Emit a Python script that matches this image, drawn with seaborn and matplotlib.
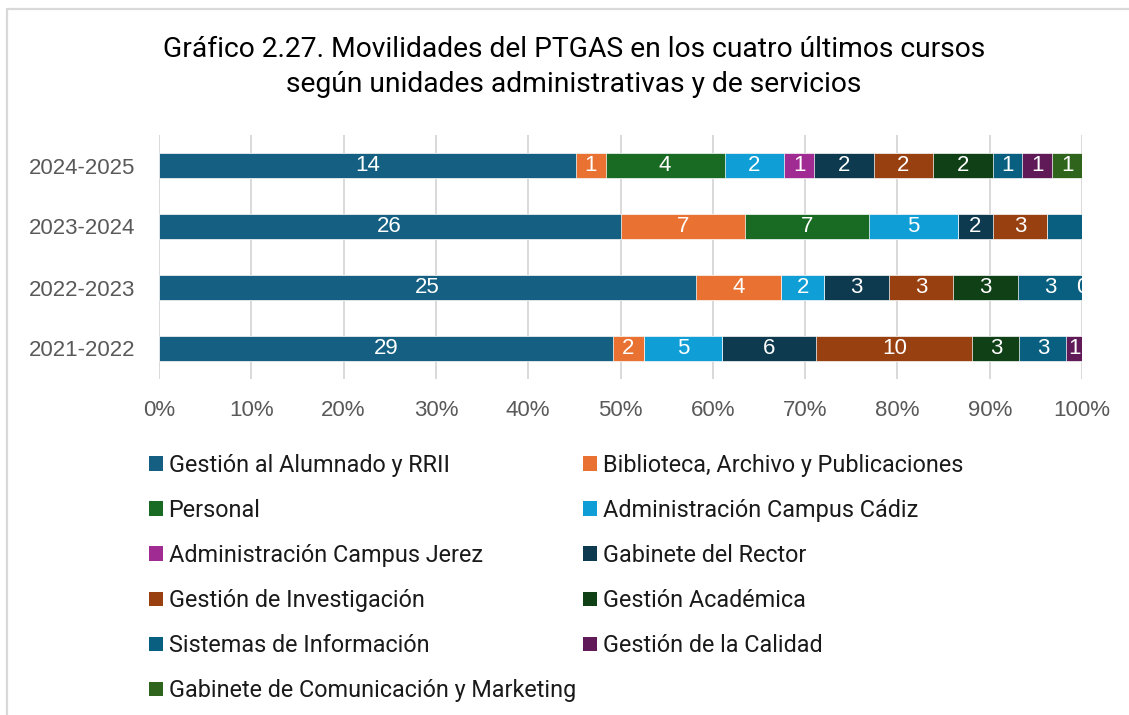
"""
Gráfico 2.27: movilidades del PTGAS por unidad administrativa (barras 100% apiladas).
"""

import matplotlib

matplotlib.use("Agg")

import matplotlib.pyplot as plt
import numpy as np
import pandas as pd
import seaborn as sns
from matplotlib.lines import Line2D
from matplotlib.patches import Patch

# Cursos, de arriba a abajo
CURSOS = ["2024-2025", "2023-2024", "2022-2023", "2021-2022"]

# Movilidades por unidad (NaN = celda vacía, sin etiqueta)
ALUMNADO = [14, 26, 25, 29]
BIBLIOTECA = [1, 7, 4, 2]
PERSONAL = [4, 7, np.nan, np.nan]
CAMPUS_CADIZ = [2, 5, 2, 5]
CAMPUS_JEREZ = [1, np.nan, np.nan, np.nan]
GABINETE_RECTOR = [2, 2, 3, 6]
INVESTIGACION = [2, 3, 3, 10]
ACADEMICA = [2, np.nan, 3, 3]
SISTEMAS = [1, 2, 3, 3]
CALIDAD = [1, np.nan, 0, 1]
COMUNICACION = [1, np.nan, np.nan, np.nan]

UNIDADES = [
    "Gestión al Alumnado y RRII",
    "Biblioteca, Archivo y Publicaciones",
    "Personal",
    "Administración Campus Cádiz",
    "Administración Campus Jerez",
    "Gabinete del Rector",
    "Gestión de Investigación",
    "Gestión Académica",
    "Sistemas de Información",
    "Gestión de la Calidad",
    "Gabinete de Comunicación y Marketing",
]

COLORES = [
    "#156082", "#E97132", "#196B24", "#0F9ED5", "#A02B93", "#0D3A4E",
    "#994010", "#0F4016", "#095F80", "#601A58", "#2F641C",
]

# Etiqueta de datos borrada en el original
SIN_ETIQUETA = [("2023-2024", "Sistemas de Información")]

FUENTE_TEXTO = ["Roboto", "DejaVu Sans"]
FUENTE_NUM = ["Liberation Sans", "DejaVu Sans"]
GRIS = "#595959"

W, H = 1129, 715


def fx(px):
    return px / W


def fy(py):
    return 1 - py / H


df = pd.DataFrame(
    np.array([
        ALUMNADO, BIBLIOTECA, PERSONAL, CAMPUS_CADIZ, CAMPUS_JEREZ,
        GABINETE_RECTOR, INVESTIGACION, ACADEMICA, SISTEMAS, CALIDAD, COMUNICACION,
    ]).T,
    index=CURSOS,
    columns=UNIDADES,
)

totales = df.fillna(0).sum(axis=1)
pct = df.fillna(0).div(totales, axis=0) * 100
acumulado = pct.cumsum(axis=1)

sns.set_theme(style="white")
plt.rcParams["font.family"] = FUENTE_TEXTO

fig = plt.figure(figsize=(W / 100, H / 100), dpi=100)
ax = fig.add_axes([fx(159), fy(379), fx(1082) - fx(159), fy(135) - fy(379)])

# Capas acumuladas, de la última a la primera, para que cada una tape a la siguiente
for i in reversed(range(len(UNIDADES))):
    sns.barplot(
        x=acumulado.iloc[:, i].values,
        y=CURSOS,
        orient="y",
        color=COLORES[i],
        saturation=1,
        width=0.40,
        edgecolor="white",
        linewidth=0.5,
        ax=ax,
        zorder=2,
    )

# Etiquetas de datos
for fila, curso in enumerate(CURSOS):
    for j, unidad in enumerate(UNIDADES):
        valor = df.loc[curso, unidad]
        if np.isnan(valor) or (curso, unidad) in SIN_ETIQUETA:
            continue
        centro = acumulado.loc[curso, unidad] - pct.loc[curso, unidad] / 2
        ax.text(
            centro, fila, f"{int(valor)}",
            ha="center", va="center", color="white",
            fontsize=16, family=FUENTE_NUM, clip_on=True, zorder=3,
        )

ax.set_xlim(0, 100)
ax.set_ylim(3.5, -0.5)
ax.set_xticks(range(0, 101, 10))
ax.set_xticklabels([f"{v}%" for v in range(0, 101, 10)])
ax.xaxis.grid(True, color="#d9d9d9", linewidth=1.4)
ax.yaxis.grid(False)
ax.set_axisbelow(True)
ax.set_xlabel("")
ax.set_ylabel("")
for s in ax.spines.values():
    s.set_visible(False)
ax.tick_params(axis="x", length=0, pad=15, labelsize=16, labelcolor=GRIS)
ax.tick_params(axis="y", length=0, pad=17, labelsize=16, labelcolor=GRIS)
for lab in ax.get_xticklabels() + ax.get_yticklabels():
    lab.set_family(FUENTE_NUM)

# Título
fig.text(fx(574), fy(57), "Gráfico 2.27. Movilidades del PTGAS en los cuatro últimos cursos",
         ha="center", va="baseline", fontsize=20.3, color="black")
fig.text(fx(574), fy(92), "según unidades administrativas y de servicios",
         ha="center", va="baseline", fontsize=20.3, color="black")

# Leyenda en dos columnas (orden por filas)
handles = [Patch(facecolor=c, edgecolor="none") for c in COLORES]
for col, x0 in ((0, 149), (1, 583)):
    idx = list(range(col, len(UNIDADES), 2))
    fig.legend(
        [handles[k] for k in idx], [UNIDADES[k] for k in idx],
        loc="upper left", bbox_to_anchor=(fx(x0), fy(454)),
        frameon=False, fontsize=16.8, borderpad=0, borderaxespad=0,
        handlelength=0.6, handleheight=0.6, handletextpad=0.24,
        labelspacing=0.945, labelcolor="#1a1a1a",
    )

# Marco del gráfico (recortado a derecha y abajo)
fig.add_artist(Line2D([fx(7), 1], [fy(9), fy(9)], color="#d9d9d9", linewidth=1.6))
fig.add_artist(Line2D([fx(7), fx(7)], [fy(9), 0], color="#d9d9d9", linewidth=1.6))

fig.savefig("out.png", dpi=100, facecolor="white")
